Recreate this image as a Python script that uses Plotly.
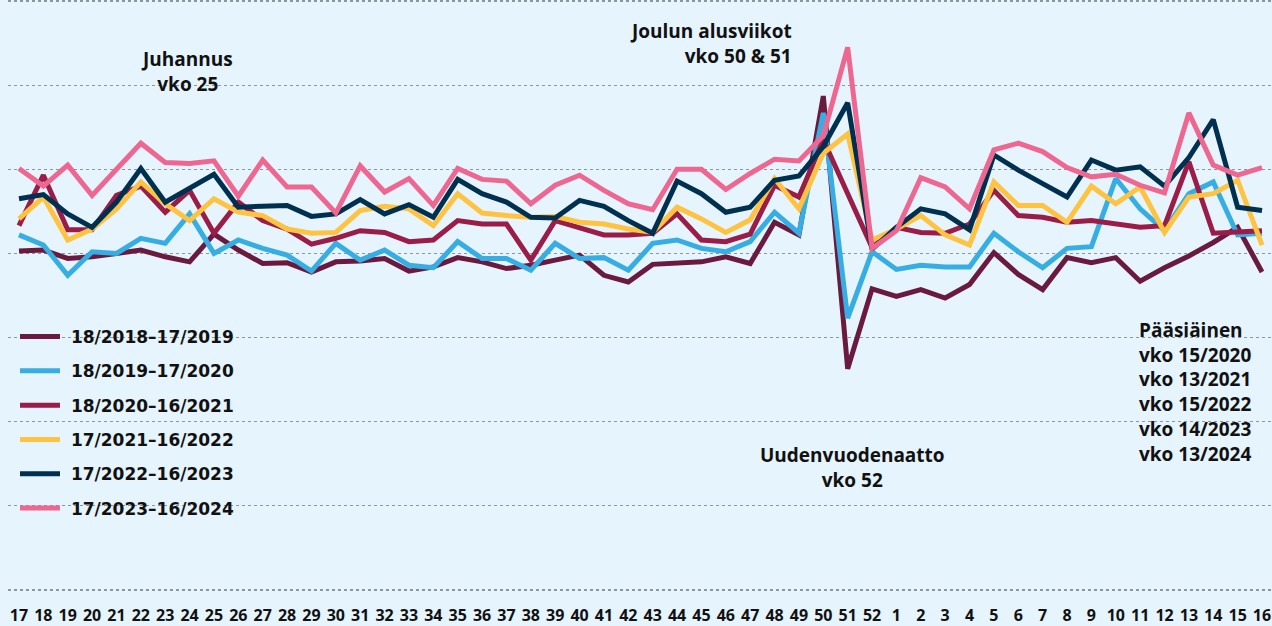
import plotly.graph_objects as go

weeks = ["17", "18", "19", "20", "21", "22", "23", "24", "25", "26", "27", "28", "29", "30",
         "31", "32", "33", "34", "35", "36", "37", "38", "39", "40", "41", "42", "43", "44",
         "45", "46", "47", "48", "49", "50", "51", "52", "1", "2", "3", "4", "5", "6", "7",
         "8", "9", "10", "11", "12", "13", "14", "15", "16"]

s_2018_2019 = [4.03, 4.04, 3.94, 3.96, 4.00, 4.04, 3.96, 3.90, 4.23, 4.04, 3.88, 3.89, 3.78, 3.90, 3.91, 3.94, 3.79,
               3.84, 3.95, 3.90, 3.82, 3.86, 3.92, 3.98, 3.74, 3.66, 3.87, 3.88, 3.90, 3.96, 3.88, 4.37, 4.22, 5.87, 2.63,
               3.58, 3.49, 3.57, 3.47, 3.63, 4.01, 3.75, 3.57, 3.95, 3.89, 3.95, 3.67, 3.83, 3.97, 4.13, 4.31, 3.78]
s_2019_2020 = [4.22, 4.10, 3.74, 4.02, 4.00, 4.18, 4.12, 4.47, 4.00, 4.16, 4.06, 3.98, 3.79, 4.12, 3.92, 4.04, 3.86,
               3.83, 4.14, 3.94, 3.94, 3.80, 4.12, 3.94, 3.95, 3.80, 4.12, 4.16, 4.06, 4.02, 4.14, 4.49, 4.24, 5.67, 3.23,
               4.02, 3.81, 3.86, 3.84, 3.84, 4.24, 4.02, 3.83, 4.06, 4.08, 4.89, 4.53, 4.27, 4.71, 4.85, 4.22, 4.24]
s_2020_2021 = [4.33, 4.93, 4.28, 4.28, 4.69, 4.80, 4.49, 4.75, 4.24, 4.61, 4.39, 4.29, 4.11, 4.18, 4.27, 4.25, 4.14,
               4.16, 4.39, 4.35, 4.35, 3.92, 4.39, 4.31, 4.22, 4.22, 4.24, 4.47, 4.16, 4.14, 4.23, 4.81, 4.67, 5.35, 4.72,
               4.07, 4.31, 4.25, 4.24, 4.35, 4.75, 4.45, 4.43, 4.37, 4.39, 4.35, 4.31, 4.33, 5.09, 4.24, 4.25, 4.27]
s_2021_2022 = [4.41, 4.67, 4.16, 4.29, 4.53, 4.85, 4.59, 4.39, 4.65, 4.49, 4.45, 4.29, 4.24, 4.25, 4.51, 4.56, 4.53,
               4.33, 4.71, 4.48, 4.45, 4.43, 4.44, 4.37, 4.35, 4.29, 4.25, 4.55, 4.41, 4.25, 4.40, 4.89, 4.53, 5.19, 5.42,
               4.16, 4.29, 4.45, 4.22, 4.10, 4.85, 4.57, 4.57, 4.37, 4.80, 4.59, 4.79, 4.25, 4.67, 4.71, 4.87, 4.10]
s_2022_2023 = [4.65, 4.70, 4.47, 4.31, 4.61, 5.01, 4.61, 4.77, 4.94, 4.55, 4.56, 4.57, 4.44, 4.47, 4.64, 4.47, 4.58,
               4.43, 4.88, 4.71, 4.61, 4.43, 4.42, 4.63, 4.56, 4.39, 4.24, 4.86, 4.71, 4.49, 4.55, 4.87, 4.92, 5.27, 5.79,
               4.05, 4.31, 4.53, 4.47, 4.28, 5.17, 4.99, 4.83, 4.67, 5.11, 4.99, 5.03, 4.80, 5.14, 5.59, 4.55, 4.51]
s_2023_2024 = [5.01, 4.80, 5.05, 4.69, 5.00, 5.31, 5.08, 5.07, 5.10, 4.68, 5.11, 4.79, 4.79, 4.48, 5.04, 4.73, 4.89,
               4.57, 5.01, 4.88, 4.86, 4.59, 4.81, 4.93, 4.75, 4.59, 4.52, 5.00, 5.00, 4.76, 4.95, 5.12, 5.10, 5.40, 6.45,
               4.06, 4.27, 4.90, 4.79, 4.53, 5.23, 5.31, 5.21, 5.02, 4.91, 4.94, 4.81, 4.72, 5.67, 5.05, 4.93, 5.02]

series_names = ["18/2018–17/2019", "18/2019–17/2020", "18/2020–16/2021",
                "17/2021–16/2022", "17/2022–16/2023", "17/2023–16/2024"]
series_values = [s_2018_2019, s_2019_2020, s_2020_2021, s_2021_2022, s_2022_2023, s_2023_2024]
series_colors = ["#6a1a3e", "#36aee3", "#9a1d48", "#fec340", "#00304f", "#ee6790"]

BG = "#e6f4fd"
W, H = 1272, 626
ML, MR, MT, MB = 8, 0, 0, 34
PW, PH = W - ML - MR, H - MT - MB


def px(x):
    return (x - ML) / PW


def py(y):
    return (MT + PH - y) / PH


x_idx = list(range(len(weeks)))

fig = go.Figure()
for name, vals, col in zip(series_names, series_values, series_colors):
    fig.add_trace(go.Scatter(
        x=x_idx, y=vals, name="\u00a0" + name, mode="lines", legendgroup=name,
        line=dict(color=col, width=5),
    ))

ann_font = dict(family="Open Sans", size=19, color="#111111", weight="bold")

fig.update_layout(
    width=W, height=H,
    margin=dict(l=ML, r=MR, t=MT, b=MB),
    paper_bgcolor=BG, plot_bgcolor=BG,
    showlegend=True,
    legend=dict(
        x=px(15), y=py(319), xanchor="left", yanchor="top",
        bgcolor="rgba(0,0,0,0)", traceorder="grouped", tracegroupgap=9.2,
        itemwidth=40,
        font=dict(family="DejaVu Sans", size=17, color="#111111", weight="bold"),
    ),
    xaxis=dict(
        range=[-0.451, 51.41], tickmode="array", tickvals=x_idx, ticktext=weeks,
        showgrid=False, zeroline=False, showline=False, ticks="",
        tickfont=dict(family="Open Sans", size=16, color="#111111", weight="bold"),
        ticklabelstandoff=12, fixedrange=True,
    ),
    yaxis=dict(
        range=[-0.024, 7.012], tickmode="array", tickvals=[0, 1, 2, 3, 4, 5, 6, 7],
        showticklabels=False, showgrid=True, griddash="dot", gridcolor="#8f959c",
        gridwidth=1.2, zeroline=False, showline=False, ticks="", fixedrange=True,
    ),
    shapes=[
        dict(type="rect", xref="paper", yref="paper", layer="between",
             x0=px(113), x1=px(261), y0=py(100), y1=py(40),
             fillcolor=BG, line=dict(width=0)),
        dict(type="rect", xref="paper", yref="paper", layer="between",
             x0=px(1117), x1=px(1272), y0=py(465), y1=py(315),
             fillcolor=BG, line=dict(width=0)),
        dict(type="rect", xref="paper", yref="paper", layer="between",
             x0=px(10), x1=px(281), y0=py(525), y1=py(318),
             fillcolor=BG, line=dict(width=0)),
    ],
    annotations=[
        dict(text="Juhannus<br>vko 25", xref="paper", yref="paper",
             x=px(187), y=py(71.5), xanchor="center", yanchor="middle",
             align="center", showarrow=False, font=ann_font),
        dict(text="Joulun alusviikot<br>vko 50 & 51", xref="paper", yref="paper",
             x=px(794), y=py(43.5), xanchor="right", yanchor="middle",
             align="right", showarrow=False, font=ann_font),
        dict(text="Uudenvuodenaatto<br>vko 52", xref="paper", yref="paper",
             x=px(852), y=py(467.5), xanchor="center", yanchor="middle",
             align="center", showarrow=False, font=ann_font),
        dict(text="Pääsiäinen<br>vko 15/2020<br>vko 13/2021<br>vko 15/2022<br>vko 14/2023<br>vko 13/2024",
             xref="paper", yref="paper",
             x=px(1137), y=py(391.5), xanchor="left", yanchor="middle",
             align="left", showarrow=False, font=ann_font),
    ],
)

fig.write_html(
    "out.html",
    config={"displayModeBar": False, "staticPlot": True},
    post_script="document.body.style.margin='0';document.body.style.background='" + BG + "';",
)
